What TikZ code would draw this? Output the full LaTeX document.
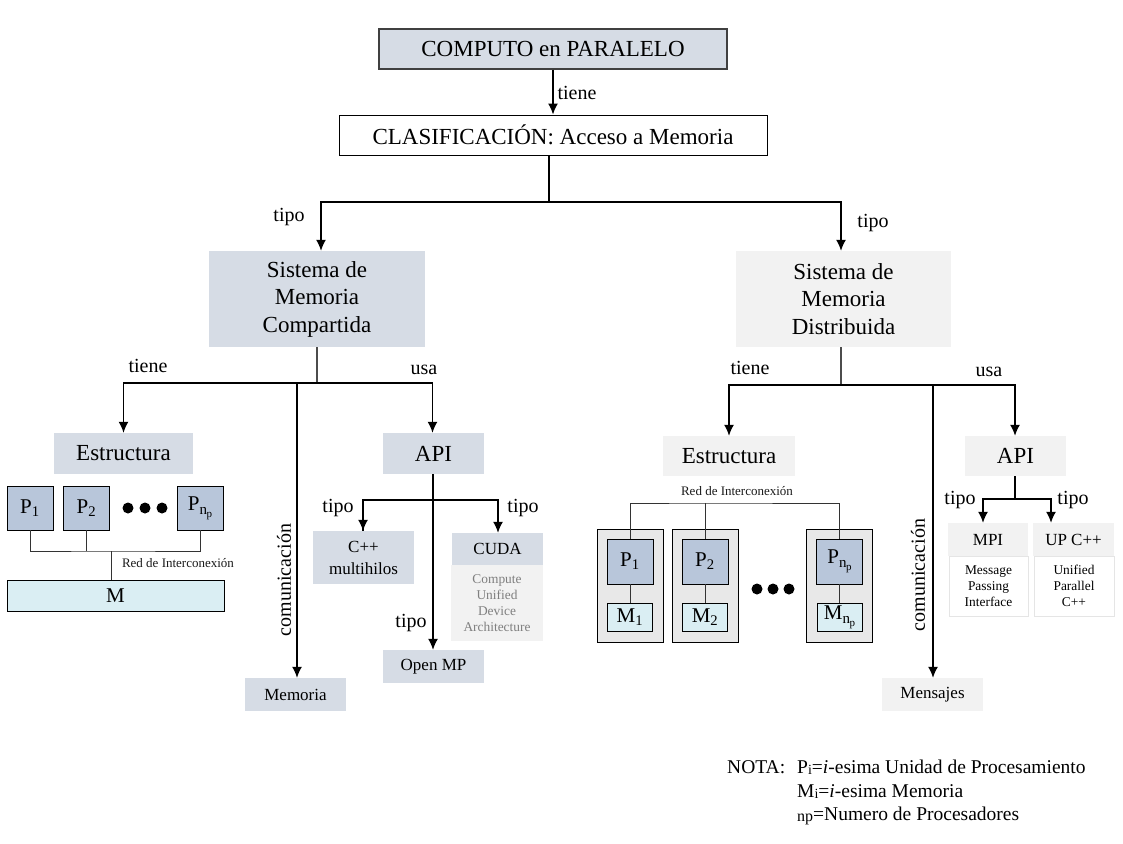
\documentclass[tikz,border=0pt]{standalone}
\usepackage{fontspec}
\setmainfont{Liberation Serif}
\usetikzlibrary{arrows.meta}
\definecolor{bluegray}{HTML}{D6DCE5}
\definecolor{lightgray}{HTML}{F2F2F2}
\definecolor{boxgray}{HTML}{E8E8E8}
\definecolor{pblue}{HTML}{B8C6DA}
\definecolor{mcyan}{HTML}{DAEEF3}
\definecolor{softtext}{HTML}{7F7F7F}
\newcommand{\subnp}{{\fontsize{15}{15}\selectfont\raisebox{-4pt}{n\kern-0.5pt{\fontsize{11}{11}\selectfont\raisebox{-3pt}{p}}}}}
\tikzset{
  arrow/.style={-{Latex[length=11pt,width=10pt]}, line width=1.4pt},
  link/.style={line width=1.4pt},
  thin link/.style={line width=1pt, draw=black!80},
  bigbox/.style={rectangle, inner sep=0pt, align=center, font=\fontsize{23}{27.5}\selectfont},
  midbox/.style={rectangle, inner sep=0pt, align=center, font=\fontsize{17}{22}\selectfont},
  notebox/.style={rectangle, inner sep=0pt, align=center, font=\fontsize{13.4}{16}\selectfont},
  unitbox/.style={rectangle, inner sep=0pt, draw=black, line width=0.9pt, font=\fontsize{21}{24}\selectfont},
  rel/.style={inner sep=0pt, font=\fontsize{20}{24}\selectfont},
  net/.style={inner sep=0pt, text=black!90, font=\fontsize{13}{15}\selectfont},
  nota/.style={inner sep=0pt, anchor=base west, font=\fontsize{19.5}{24}\selectfont}
}
\begin{document}
\begin{tikzpicture}[x=1pt,y=-1pt]
        \useasboundingbox (0,0) rectangle (1123,843);

        \node[bigbox, draw=black!75, line width=1.2pt, fill=bluegray, minimum width=348, minimum height=40] (computo) at(553,49){COMPUTO en PARALELO};
        \node[bigbox, draw=black, line width=1pt, fill=white, minimum width=428, minimum height=40] (clasif) at(553,135){CLASIFICACIÓN: Acceso a Memoria};
        \draw [arrow] (computo) -- (clasif);
        \node[rel] (tiene-top) at(577,93){tiene};

        \node[bigbox, fill=bluegray, minimum width=216, minimum height=96] (compartida) at(317,299){Sistema de\\Memoria\\Compartida};
        \node[bigbox, fill=lightgray, minimum width=215, minimum height=96] (distribuida) at(843.5,299){Sistema de\\Memoria\\Distribuida};

        \coordinate (split-top) at(549,202);
        \draw [link] (clasif.south -| split-top) -- (split-top);
        \draw [arrow] (split-top) -| ([xshift=4pt]compartida.north);
        \draw [arrow] (split-top) -| ([xshift=-2.5pt]distribuida.north);
        \node[rel] (tipo-l) at(289,217){tipo};
        \node[rel] (tipo-r) at(873,223){tipo};

        % memoria compartida
        \node[bigbox, fill=bluegray, minimum width=139, minimum height=41] (estructura-l) at(123.5,453.5){Estructura};
        \node[bigbox, fill=bluegray, minimum width=101, minimum height=41] (api-l) at(433.5,453.5){API};
        \node[midbox, fill=bluegray, minimum width=101, minimum height=33] (memoria) at(295.5,694.5){Memoria};

        \coordinate (split-l) at(317,383);
        \draw [link, draw=black!70] (compartida) -- (split-l);
        \draw [arrow] (split-l) -| (estructura-l.north);
        \draw [arrow] (split-l) -| ([xshift=-1pt]api-l.north);
        \draw [arrow] (split-l -| memoria.north) ++(1.5,0) -- ([xshift=1.5pt]memoria.north);
        \node[rel] (tiene-l) at(148,366){tiene};
        \node[rel] (usa-l) at(424,370){usa};
        \node[rel, rotate=90] (com-l) at(284,580){comunicación};

        \node[unitbox, fill=pblue, minimum width=46, minimum height=44] (p-1) at(30,508){P\textsubscript{1}};
        \node[unitbox, fill=pblue, minimum width=46, minimum height=44] (p-2) at(86.5,508){P\textsubscript{2}};
        \node[unitbox, fill=pblue, minimum width=46, minimum height=44] (p-np) at(200,508){P\subnp};
        \fill (128,508) circle (5.5) (145,508) circle (5.5) (162,508) circle (5.5);
        \node[unitbox, fill=mcyan, minimum width=217, minimum height=31] (m-shared) at(115.5,595.5){M};
        \coordinate (bus-l) at(111,551);
        \draw [thin link] (p-1.south) |- (bus-l) -| (p-np.south);
        \draw [thin link] (p-2.south) -- (p-2.south |- bus-l);
        \draw [thin link] (bus-l) -- (bus-l |- m-shared.north);
        \node[net] (red-l) at(178,563){Red de Interconexión};

        \node[midbox, fill=bluegray, minimum width=101, minimum height=53] (cpp) at(363.5,557.5){C++\\multihilos};
        \node[midbox, fill=bluegray, minimum width=91, minimum height=32] (cuda) at(497.5,549){CUDA};
        \node[notebox, fill=lightgray, text=softtext, minimum width=92, minimum height=76] (cuda-note) at(497,603){Compute\\Unified\\Device\\Architecture};
        \node[midbox, fill=bluegray, minimum width=101, minimum height=33] (openmp) at(433.5,666.5){Open MP};
        \coordinate (split-api-l) at(433,500);
        \draw [arrow] ([xshift=-0.5pt]api-l.south) -- ([xshift=-0.5pt]openmp.north);
        \draw [link] (split-api-l) -| ([xshift=-0.5pt]cpp.north);
        \draw [arrow] (split-api-l -| cpp.north) ++(-0.5,0) -- ([xshift=-0.5pt]cpp.north);
        \draw [arrow] (split-api-l) -| ([xshift=0.5pt]cuda.north);
        \node[rel] (tipo-cpp) at(338,508){tipo};
        \node[rel] (tipo-cuda) at(523,508){tipo};
        \node[rel] (tipo-omp) at(411,623){tipo};

        % memoria distribuida
        \node[bigbox, fill=lightgray, minimum width=132, minimum height=40] (estructura-r) at(729,456){Estructura};
        \node[bigbox, fill=lightgray, minimum width=101, minimum height=40] (api-r) at(1015.5,456){API};
        \node[midbox, fill=lightgray, minimum width=101, minimum height=33] (mensajes) at(932.5,694.5){Mensajes};

        \coordinate (split-r) at(841,385);
        \draw [link, draw=black!70] (distribuida.south -| split-r) -- (split-r);
        \draw [arrow] (split-r) -| (estructura-r.north);
        \draw [arrow] (split-r) -| ([xshift=-0.5pt]api-r.north);
        \draw [arrow] (split-r -| mensajes.north) ++(0.5,0) -- ([xshift=0.5pt]mensajes.north);
        \node[rel] (tiene-r) at(750,368){tiene};
        \node[rel] (usa-r) at(989,372){usa};
        \node[rel, rotate=90] (com-r) at(918,575){comunicación};

        \node[unitbox, fill=boxgray, minimum width=66, minimum height=113] (node-1) at(630,585.5){};
        \node[unitbox, fill=boxgray, minimum width=66, minimum height=113] (node-2) at(705,585.5){};
        \node[unitbox, fill=boxgray, minimum width=66, minimum height=113] (node-np) at(839,585.5){};
        \node[unitbox, fill=pblue, minimum width=46, minimum height=45] (pd-1) at(630,561.5){P\textsubscript{1}};
        \node[unitbox, fill=pblue, minimum width=46, minimum height=45] (pd-2) at(705,561.5){P\textsubscript{2}};
        \node[unitbox, fill=pblue, minimum width=46, minimum height=45] (pd-np) at(839.5,561.5){P\subnp};
        \node[unitbox, fill=mcyan, minimum width=45, minimum height=28] (md-1) at(630,617){M\textsubscript{1}};
        \node[unitbox, fill=mcyan, minimum width=45, minimum height=28] (md-2) at(705,617){M\textsubscript{2}};
        \node[unitbox, fill=mcyan, minimum width=45, minimum height=28] (md-np) at(839.5,617){M\subnp};
        \fill (757,589) circle (5.5) (773,589) circle (5.5) (789,589) circle (5.5);
        \coordinate (bus-r) at(707,503);
        \draw [thin link] (pd-1.north) |- (bus-r) -| (pd-np.north);
        \draw [thin link] (pd-2.north) -- (pd-2.north |- bus-r);
        \draw [thin link] (pd-1) -- (md-1);
        \draw [thin link] (pd-2) -- (md-2);
        \draw [thin link] (pd-np) -- (md-np);
        \node[net] (red-r) at(737,491){Red de Interconexión};

        \node[midbox, fill=lightgray, minimum width=80, minimum height=33] (mpi) at(988,539.5){MPI};
        \node[notebox, fill=white, draw=black!10, minimum width=79, minimum height=60] (mpi-note) at(988.5,586){Message\\Passing\\Interface};
        \node[midbox, fill=lightgray, minimum width=81, minimum height=33] (upc) at(1073.5,539.5){UP C++};
        \node[notebox, fill=white, draw=black!10, minimum width=80, minimum height=60] (upc-note) at(1074,586){Unified\\Parallel\\C++};
        \coordinate (split-api-r) at(1015,499);
        \draw [link] ([xshift=-0.5pt]api-r.south) -- (split-api-r);
        \draw [arrow] (split-api-r) -| ([xshift=-5pt]mpi.north);
        \draw [arrow] (split-api-r) -| ([xshift=-22.5pt]upc.north);
        \node[rel] (tipo-mpi) at(960,500){tipo};
        \node[rel] (tipo-upc) at(1073,500){tipo};

        % nota
        \node[nota] (nota) at(727,773){NOTA:};
        \node[nota] (nota-p) at(797,773){P{\fontsize{14}{14}\selectfont\raisebox{-1pt}{i}}=\textit{i}-esima Unidad de Procesamiento};
        \node[nota] (nota-m) at(797,797){M{\fontsize{14}{14}\selectfont\raisebox{-1pt}{i}}=\textit{i}-esima Memoria};
        \node[nota] (nota-n) at(797,820){{\fontsize{16}{16}\selectfont\raisebox{-1.5pt}{np}}=Numero de Procesadores};

      \end{tikzpicture}
\end{document}
